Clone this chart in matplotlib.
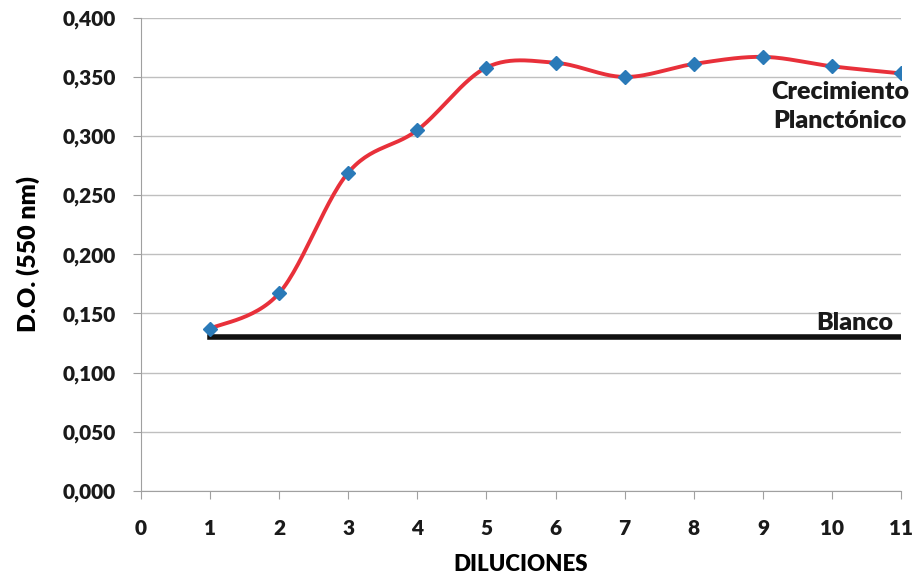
import matplotlib.pyplot as plt
import numpy as np
from matplotlib.ticker import FuncFormatter

# datos
diluciones = [1, 2, 3, 4, 5, 6, 7, 8, 9, 10, 11]
do_550 = [0.137, 0.167, 0.269, 0.305, 0.358, 0.362, 0.350, 0.361, 0.367, 0.359, 0.353]
blanco = 0.130
blanco_x = [1, 11]


def excel_smooth(x, y, n=30):
    # curva suavizada tipo Excel (bezier con puntos de control Catmull-Rom)
    x = np.asarray(x, float)
    y = np.asarray(y, float)
    px = np.concatenate([[x[0]], x, [x[-1]]])
    py = np.concatenate([[y[0]], y, [y[-1]]])
    xs, ys = [], []
    t = np.linspace(0, 1, n)
    for i in range(1, len(px) - 2):
        p0 = np.array([px[i], py[i]])
        p3 = np.array([px[i + 1], py[i + 1]])
        p1 = p0 + (np.array([px[i + 1], py[i + 1]]) - np.array([px[i - 1], py[i - 1]])) / 6
        p2 = p3 - (np.array([px[i + 2], py[i + 2]]) - np.array([px[i], py[i]])) / 6
        b = ((1 - t) ** 3)[:, None] * p0 + (3 * (1 - t) ** 2 * t)[:, None] * p1 \
            + (3 * (1 - t) * t ** 2)[:, None] * p2 + (t ** 3)[:, None] * p3
        xs.extend(b[:, 0])
        ys.extend(b[:, 1])
    return np.array(xs), np.array(ys)


plt.rcParams["font.family"] = ["Lato", "DejaVu Sans"]
plt.rcParams["font.weight"] = "heavy"

fig = plt.figure(figsize=(9.14, 5.76), dpi=100)
ax = fig.add_axes([0.154, 0.148, 0.832, 0.821])

ax.set_xlim(0, 11)
ax.set_ylim(0, 0.4)
ax.set_yticks(np.arange(0, 0.401, 0.05))
ax.set_xticks(range(0, 12))
ax.yaxis.set_major_formatter(FuncFormatter(lambda v, p: f"{v:.3f}".replace(".", ",")))
ax.grid(axis="y", color="#bfbfbf", linewidth=1)
ax.set_axisbelow(True)

for s in ["top", "right"]:
    ax.spines[s].set_visible(False)
for s in ["left", "bottom"]:
    ax.spines[s].set_color("#a0a0a0")
ax.tick_params(axis="both", colors="#a0a0a0", labelcolor="#1a1a1a", labelsize=15, length=6)
ax.tick_params(axis="x", pad=14)
ax.tick_params(axis="y", pad=12)

xs, ys = excel_smooth(diluciones, do_550)
ax.plot(xs, ys, color="#e8303a", linewidth=2.8, zorder=3)
ax.plot(diluciones, do_550, linestyle="none", marker="D", markersize=7,
        color="#2a7ab8", zorder=4)
ax.plot(blanco_x, [blanco, blanco], color="#111111", linewidth=4, zorder=3)

ax.text(10.12, 0.325, "Crecimiento\nPlanctónico", ha="center", va="center",
        fontsize=18, fontweight="heavy", linespacing=1.4, color="#1a1a1a")
ax.text(10.88, 0.142, "Blanco", ha="right", va="center",
        fontsize=18, fontweight="heavy", color="#1a1a1a")

ax.set_xlabel("DILUCIONES", fontsize=16, fontweight="heavy", labelpad=12)
ax.set_ylabel("D.O. (550 nm)", fontsize=18, fontweight="heavy", labelpad=16)

fig.savefig("out.png", dpi=100)
